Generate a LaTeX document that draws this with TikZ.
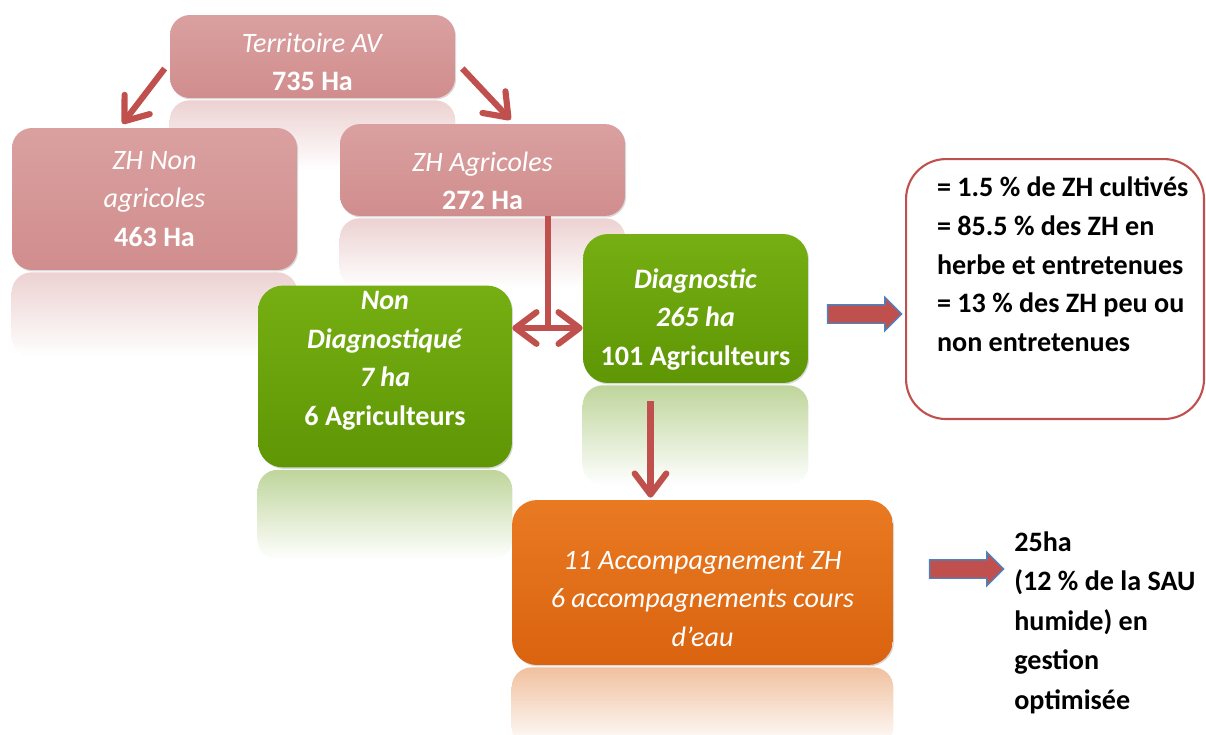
\documentclass[tikz,border=0pt]{standalone}
\usepackage{fontspec}
\setmainfont{Carlito}
\usepackage{tikz}
\usetikzlibrary{arrows.meta,shapes.arrows,shadows,backgrounds}
\definecolor{pinktop}{HTML}{DAA0A0}
\definecolor{pinkbot}{HTML}{D18D8D}
\definecolor{greentop}{HTML}{76AF12}
\definecolor{greenbot}{HTML}{5E9605}
\definecolor{orangetop}{HTML}{E97A22}
\definecolor{orangebot}{HTML}{DA630F}
\definecolor{arrowred}{HTML}{C0504D}
\definecolor{arrowblue}{HTML}{4F81BD}

\begin{document}
\begin{tikzpicture}[x=0.02cm, y=-0.02cm, font=\fontsize{16}{22}\selectfont]
    \tikzstyle{block} = [rectangle, rounded corners=0.4cm, align=center, text=white, drop shadow={opacity=0.3, shadow xshift=0.6pt, shadow yshift=-0.8pt}]
    \tikzstyle{pinkblock} = [block, top color=pinktop, bottom color=pinkbot, minimum width=5.7cm]
    \tikzstyle{greenblock} = [block, top color=greentop, bottom color=greenbot, rounded corners=0.5cm]
    \tikzstyle{orangeblock} = [block, top color=orangetop, bottom color=orangebot, rounded corners=0.5cm]
    \tikzstyle{line} = [draw, line width=3.5pt, color=arrowred, >={Straight Barb[length=12pt, width=18pt, round]}, ->]
    \tikzstyle{fatarrow} = [single arrow, draw=arrowblue, fill=arrowred, line width=0.8pt, inner xsep=0pt, inner ysep=0.17cm, minimum height=1.48cm, single arrow head extend=0.15cm]

    \useasboundingbox (0,0) rectangle (1206,734);

    % surfaces
    \node [pinkblock, minimum height=1.66cm] (terr) at (312.5,56.5) {\mbox{}\\[-5pt]\textit{Territoire AV}\\ \textbf{735 Ha}};
    \node [pinkblock, minimum height=2.84cm] (zhn) at (154.5,199) {\textit{ZH Non}\\ \textit{agricoles}\\ \textbf{463 Ha}};
    \node [pinkblock, minimum height=1.68cm] (zha) at (482.5,170) {\mbox{}\\[1.5pt]\textit{ZH Agricoles}\\ \textbf{272 Ha}};

    % diagnostics
    \node [greenblock, minimum width=5.08cm, minimum height=3.58cm] (nond) at (385,376.5) {\textbf{\textit{Non}}\\ \textbf{\textit{Diagnostiqué}}\\ \textbf{\textit{7 ha}}\\ \textbf{6 Agriculteurs}\\[-1.5pt]\mbox{}};
    \node [greenblock, minimum width=4.5cm, minimum height=2.98cm] (diag) at (695.5,308.5) {\mbox{}\\[1.7pt]\textbf{\textit{Diagnostic}}\\ \textbf{\textit{265 ha}}\\ \textbf{101 Agriculteurs}};
    \node [orangeblock, minimum width=7.62cm, minimum height=3.3cm] (acc) at (702.5,582.5) {\mbox{}\\[7pt]\textit{11 Accompagnement ZH}\\ \textit{6 accompagnements cours}\\ \textit{d’eau}};

    % results
    \node [draw=arrowred, line width=1.2pt, rounded corners=0.8cm, inner sep=0pt, anchor=north west, font=\fontsize{16}{22}\selectfont\bfseries] (stats) at (905,158)
        {\begin{minipage}[t][5.2cm][t]{5.96cm}\vspace{0.36cm}\leftskip=0.62cm
        = 1.5 \% de ZH cultivés\\
        = 85.5 \% des ZH en\\
        herbe et entretenues\\
        = 13 \% des ZH peu ou\\
        non entretenues
        \end{minipage}};
    \node [anchor=north west, align=left, inner sep=0pt, font=\fontsize{16}{22.5}\selectfont\bfseries] (gain) at (1014,531) {25ha\\ (12 \% de la SAU\\ humide) en\\ gestion\\ optimisée};

    \node [fatarrow] (tostats) at (860,314) {};
    \node [fatarrow] (togain) at (962,569) {};

    % reflets
    \begin{pgfonlayer}{background}
        \foreach \b/\c/\h in {terr/pinkbot/70, zhn/pinkbot/85, zha/pinkbot/70, nond/greenbot/90, diag/greenbot/100, acc/orangebot/80}
            \path [top color=\c!40!white, bottom color=white, rounded corners=0.4cm] ([shift={(0,2)}]\b.south west) rectangle ([shift={(0,2+\h)}]\b.south east);
    \end{pgfonlayer}

    \coordinate (split) at (548,328);
    \path [line] ([shift={(-5,12)}]terr.west) -- ([shift={(-32,-4)}]zhn.north);
    \path [line] ([shift={(7,12)}]terr.east) -- ([shift={(28,-4)}]zha.north);
    \path [line, -] (zha.south -| split) -- (split);
    \path [line, <->] (nond.east |- split) -- (diag.west |- split);
    \path [line] ([shift={(-45,18)}]diag.south) -- ([shift={(-52,-2)}]acc.north);
\end{tikzpicture}
\end{document}
